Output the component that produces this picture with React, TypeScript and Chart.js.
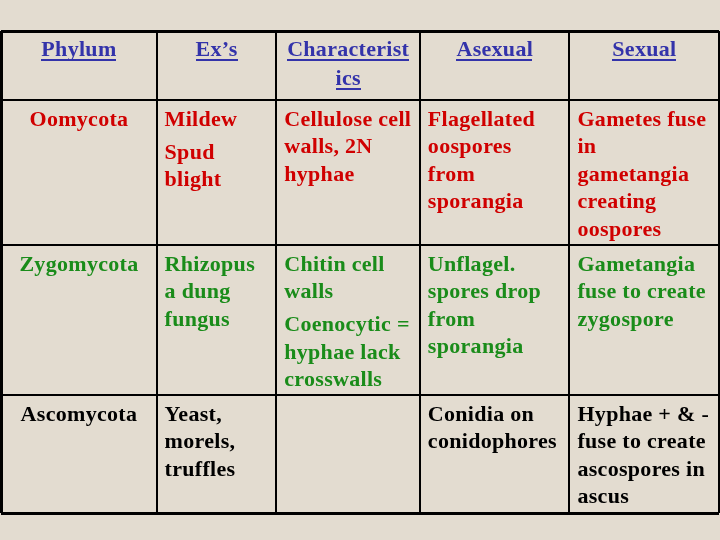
import { useEffect, useRef } from "react";
import { Chart, registerables } from "chart.js";

Chart.register(...registerables);

// ---- data ----
const headers: string[][] = [["Phylum"], ["Ex’s"], ["Characterist", "ics"], ["Asexual"], ["Sexual"]];
const phyla: string[] = ["Oomycota", "Zygomycota", "Ascomycota"];
const examples: string[][][] = [
  [["Mildew"], ["Spud", "blight"]],
  [["Rhizopus", "a dung", "fungus"]],
  [["Yeast,", "morels,", "truffles"]],
];
const characteristics: string[][][] = [
  [["Cellulose cell", "walls, 2N", "hyphae"]],
  [["Chitin cell", "walls"], ["Coenocytic =", "hyphae lack", "crosswalls"]],
  [],
];
const asexual: string[][][] = [
  [["Flagellated", "oospores", "from", "sporangia"]],
  [["Unflagel.", "spores drop", "from", "sporangia"]],
  [["Conidia on", "conidophores"]],
];
const sexual: string[][][] = [
  [["Gametes fuse", "in", "gametangia", "creating", "oospores"]],
  [["Gametangia", "fuse to create", "zygospore"]],
  [["Hyphae + & -", "fuse to create", "ascospores in", "ascus"]],
];
const rowColors: string[] = ["#d00000", "#1a8c1a", "#000000"];

// ---- layout (table units) ----
const COL_EDGES = [0, 156, 276, 420, 570, 720];
const ROW_EDGES = [0, 69, 214, 364, 482];

const BG = "#e3dcd0";
const HEADER_COLOR = "#3333aa";
const FONT = 'bold 22px "Liberation Serif"';

export default function App() {
  const ref = useRef<HTMLCanvasElement>(null);

  useEffect(() => {
    if (!ref.current) return;

    const body: string[][][][] = phyla.map((p, r) => [
      [[p]],
      examples[r],
      characteristics[r],
      asexual[r],
      sexual[r],
    ]);

    const anchors: { x: number; y: number }[] = [];
    for (let r = 0; r < ROW_EDGES.length - 1; r++)
      for (let c = 0; c < COL_EDGES.length - 1; c++)
        anchors.push({ x: COL_EDGES[c], y: ROW_EDGES[r] });

    const LS = 0.3;
    const tablePlugin = {
      id: "tableText",
      afterDraw(chart: any) {
        const { ctx } = chart;
        const xs = chart.scales.x;
        const ys = chart.scales.y;
        ctx.save();
        ctx.font = FONT;
        (ctx as any).letterSpacing = LS + "px";
        ctx.textBaseline = "alphabetic";
        ctx.textAlign = "left";

        // header row
        const hy0 = ys.getPixelForValue(ROW_EDGES[0]);
        headers.forEach((lines, c) => {
          const cx = (xs.getPixelForValue(COL_EDGES[c]) + xs.getPixelForValue(COL_EDGES[c + 1])) / 2;
          lines.forEach((t, i) => {
            const by = hy0 + 25 + i * 29;
            const w = ctx.measureText(t).width - LS;
            ctx.fillStyle = HEADER_COLOR;
            ctx.fillText(t, cx - w / 2, by);
            ctx.fillRect(Math.round(cx - w / 2), Math.round(by + 3), Math.round(w), 2);
          });
        });

        // body rows
        body.forEach((cells, r) => {
          const y0 = ys.getPixelForValue(ROW_EDGES[r + 1]);
          ctx.fillStyle = rowColors[r];
          cells.forEach((paras, c) => {
            const xl = xs.getPixelForValue(COL_EDGES[c]);
            const xr = xs.getPixelForValue(COL_EDGES[c + 1]);
            let by = y0 + 26;
            paras.forEach((lines, pi) => {
              if (pi > 0) by += 5.5;
              lines.forEach((t) => {
                if (c === 0) {
                  const w = ctx.measureText(t).width - LS;
                  ctx.fillText(t, (xl + xr) / 2 - w / 2, by);
                } else {
                  ctx.fillText(t, xl + 8, by);
                }
                by += 27.4;
              });
            });
          });
        });
        ctx.restore();
      },
    };

    const edgeWidth = (n: number) => (ctx: any) =>
      ctx.index === 0 || ctx.index === n - 1 ? 3 : 2;

    const chart = new Chart(ref.current, {
      type: "scatter",
      data: {
        datasets: [{ data: anchors, pointRadius: 0, pointHoverRadius: 0 }],
      },
      options: {
        animation: false,
        responsive: false,
        events: [],
        layout: { padding: { top: 31, bottom: 27, left: 1, right: 1 } },
        plugins: { legend: { display: false }, tooltip: { enabled: false } },
        scales: {
          x: {
            type: "linear",
            min: COL_EDGES[0],
            max: COL_EDGES[COL_EDGES.length - 1],
            afterBuildTicks: (s: any) => {
              s.ticks = COL_EDGES.map((v) => ({ value: v }));
            },
            ticks: { display: false },
            border: { display: false },
            grid: { color: "#000", lineWidth: edgeWidth(COL_EDGES.length), drawTicks: false },
          },
          y: {
            type: "linear",
            reverse: true,
            min: ROW_EDGES[0],
            max: ROW_EDGES[ROW_EDGES.length - 1],
            afterBuildTicks: (s: any) => {
              s.ticks = ROW_EDGES.map((v) => ({ value: v }));
            },
            ticks: { display: false },
            border: { display: false },
            grid: { color: "#000", lineWidth: edgeWidth(ROW_EDGES.length), drawTicks: false },
          },
        },
      },
      plugins: [tablePlugin],
    });
    let alive = true;
    document.fonts.load(FONT).then(() => {
      if (alive) chart.draw();
    });
    return () => {
      alive = false;
      chart.destroy();
    };
  }, []);

  return (
    <div style={{ position: "fixed", left: 0, top: 0, width: 720, height: 540, background: BG }}>
      <canvas ref={ref} width={720} height={540} style={{ display: "block" }} />
    </div>
  );
}
